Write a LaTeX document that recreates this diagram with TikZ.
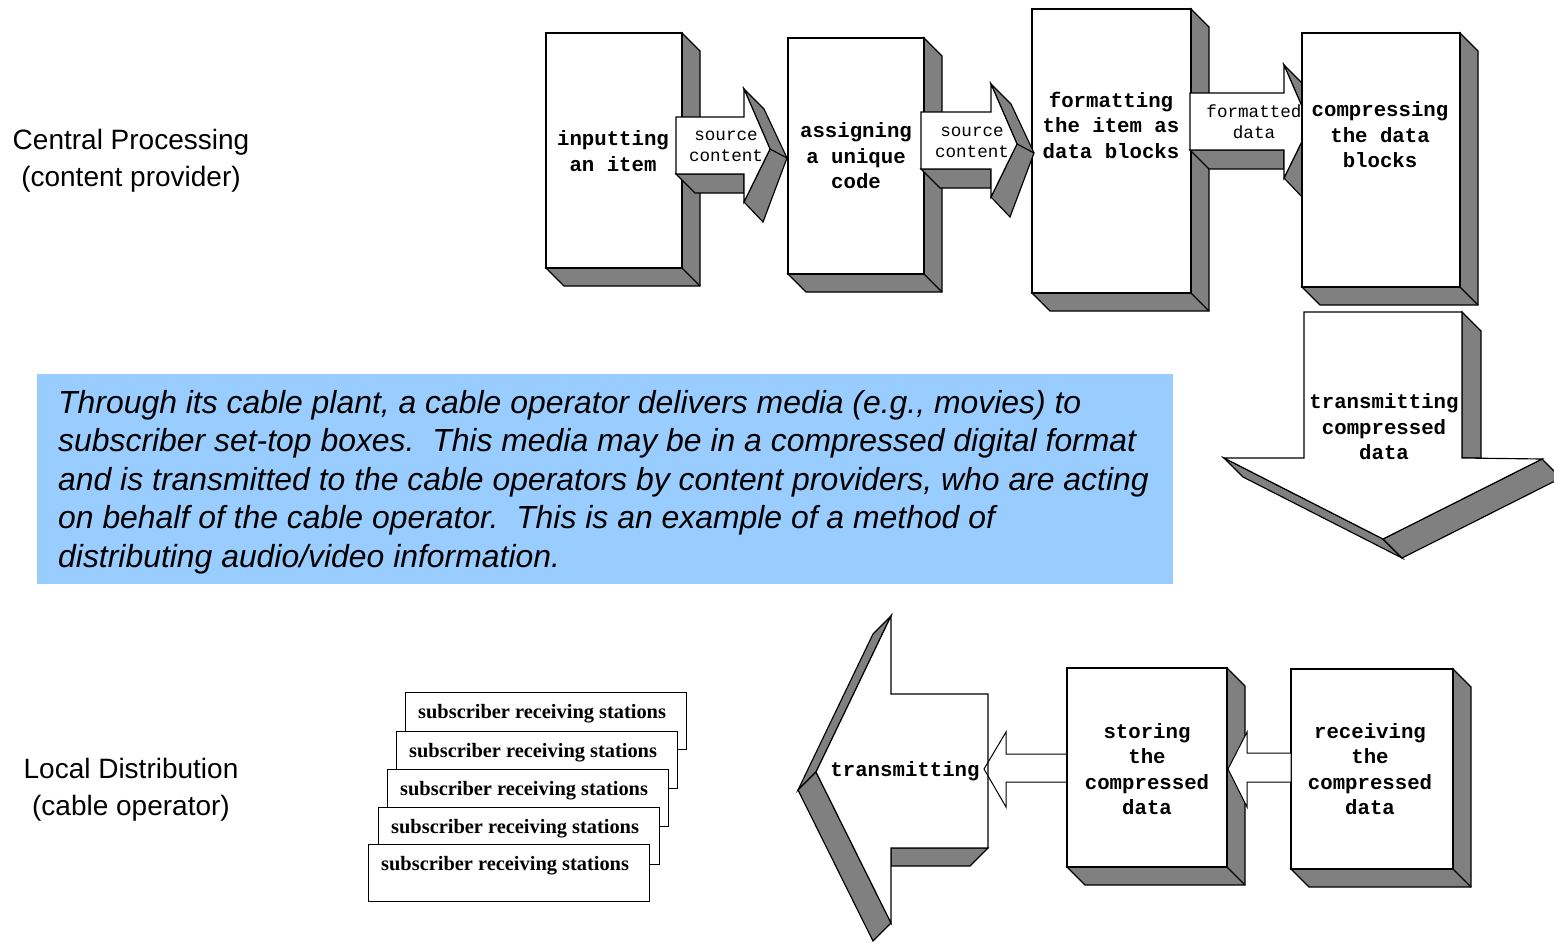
\documentclass[tikz,border=0pt]{standalone}
\usepackage{fontspec}
\setmainfont{Liberation Sans}
\newfontfamily\monofont{Liberation Mono}
\newfontfamily\stationfont{Liberation Serif}
\definecolor{shade}{HTML}{808080}
\definecolor{note}{HTML}{99CCFF}
\tikzset{
  face/.style={fill=white,draw=black,line width=1.15pt,line join=miter},
  side/.style={fill=shade,draw=black,line width=1.15pt,line join=miter},
  boxtext/.style={font=\monofont\bfseries\fontsize{20.7}{25.5}\selectfont,align=center,inner sep=0pt},
  arrowtext/.style={font=\monofont\fontsize{17.6}{21}\selectfont,align=center,inner sep=0pt},
  sidetext/.style={font=\fontsize{28}{37}\selectfont,align=center,inner sep=0pt},
  station/.style={draw=black,line width=1.15pt,fill=white,minimum width=281pt,minimum height=57pt,inner sep=0pt,anchor=north west},
  stationtext/.style={font=\stationfont\bfseries\fontsize{20.4}{24}\selectfont,inner sep=0pt,anchor=west},
}
% 3D box: name, x1, y1, x2, y2
\newcommand\cubebox[5]{%
  \draw[side] (#4,#3) -- (#4+18,#3+18) -- (#4+18,#5+18) -- (#2+18,#5+18) -- (#2,#5) -- (#4,#5) -- cycle;
  \draw[line width=1.15pt] (#4,#5) -- (#4+18,#5+18);
  \node[face,minimum width={#4-#2},minimum height={#5-#3},inner sep=0pt] (#1) at ({(#2+#4)/2},{(#3+#5)/2}) {};
}
% 3D right block arrow: shaft left x, head base x, shaft top y
\newcommand\rblock[3]{%
  \draw[side] (#1,#3+57) -- (#1+19,#3+76) -- (#2,#3+76) -- (#2,#3+57) -- cycle;
  \draw[side] (#2,#3-28) -- (#2+20,#3-8) -- (#2+43,#3+41) -- (#2+19,#3+105) -- (#2,#3+85) -- (#2+26,#3+32) -- cycle;
  \draw[line width=1.15pt] (#2+26,#3+32) -- (#2+43,#3+41);
  \draw[face] (#1,#3) -- (#2,#3) -- (#2,#3-28) -- (#2+26,#3+32) -- (#2,#3+85) -- (#2,#3+57) -- (#1,#3+57) -- cycle;
}
\begin{document}
\begin{tikzpicture}[x=1pt,y=-1pt]
\useasboundingbox[fill=white] (0,0) rectangle (1554,942);

% side labels
\node[sidetext] (cp) at (131,161) {Central Processing\\(content provider)};
\node[sidetext] (ld) at (131,790) {Local Distribution\\(cable operator)};

% top row
\cubebox{input}{546}{33}{682}{268}
\cubebox{assign}{788}{38}{924}{274}
\cubebox{format}{1032}{9}{1191}{293}
\rblock{676}{744}{117}
\rblock{921}{991}{112}
\rblock{1190}{1284}{93}
\node[arrowtext] (a1) at (726,146) {source\\content};
\node[arrowtext] (a2) at (972,142) {source\\content};
\node[arrowtext] (a3) at (1254,122) {formatted\\data};
\cubebox{compress}{1302}{33}{1460}{287}

\node[boxtext] (t1) at (613,151) {inputting\\an item};
\node[boxtext] (t2) at (856,156) {assigning\\a unique\\code};
\node[boxtext] (t3) at (1111,125) {formatting\\the item as\\data blocks};
\node[boxtext] (t4) at (1380,135) {compressing\\the data\\blocks};

% down arrow
\draw[side] (1462,312) -- (1481,331) -- (1481,458) -- (1462,458) -- cycle;
\draw[side] (1224,458) -- (1243,477) -- (1402,558) -- (1383,539) -- cycle;
\draw[side] (1383,539) -- (1402,558) -- (1561,478) -- (1542,459) -- cycle;
\draw[face] (1304,312) -- (1462,312) -- (1462,458) -- (1542,459) -- (1383,539) -- (1224,458) -- (1304,458) -- cycle;
\node[boxtext] (t5) at (1384,427) {transmitting\\compressed\\data};

% note
\node[fill=note,minimum width=1136pt,minimum height=210pt,inner sep=0pt,anchor=north west] (notebox) at (37,374) {};
\node[font=\itshape\fontsize{31.9}{38.5}\selectfont,align=left,inner sep=0pt,anchor=north west] (notetext) at (58,390)
{Through its cable plant, a cable operator delivers media (e.g., movies) to\\
subscriber set-top boxes.\ \ This media may be in a compressed digital format\\
and is transmitted to the cable operators by content providers, who are acting\\
on behalf of the cable operator.\ \ This is an example of a method of\\
distributing audio/video information.};

% bottom row: big left arrow
\draw[side] (988,848) -- (970,866) -- (891,866) -- (891,848) -- cycle;
\draw[side] (891,616) -- (873,634) -- (798,790) -- (816,772) -- cycle;
\draw[side] (816,772) -- (798,790) -- (873,941) -- (891,923) -- cycle;
\draw[face] (988,694) -- (891,694) -- (891,616) -- (816,772) -- (891,923) -- (891,848) -- (988,848) -- cycle;
\node[boxtext] (t6) at (905,771) {transmitting};

\cubebox{store}{1067}{668}{1227}{867}
\cubebox{receive}{1291}{669}{1453}{869}

\draw[line width=1pt] (1067,754) -- (1006,754) -- (1006,732) -- (984,769) -- (1006,807) -- (1006,782) -- (1067,782);
\draw[face,line width=1pt] (1291,753) -- (1247,753) -- (1247,732) -- (1228,769) -- (1247,807) -- (1247,782) -- (1291,782) -- cycle;

\node[boxtext] (t7) at (1147,769) {storing\\the\\compressed\\data};
\node[boxtext] (t8) at (1370,769) {receiving\\the\\compressed\\data};

% subscriber stations
\foreach \i/\x/\y in {1/405/692,2/396/731,3/387/769,4/378/807,5/368/844}{
  \node[station] (s\i) at (\x,\y) {};
  \node[stationtext] (st\i) at (\x+13,\y+22) {subscriber receiving stations};
}
\end{tikzpicture}
\end{document}
